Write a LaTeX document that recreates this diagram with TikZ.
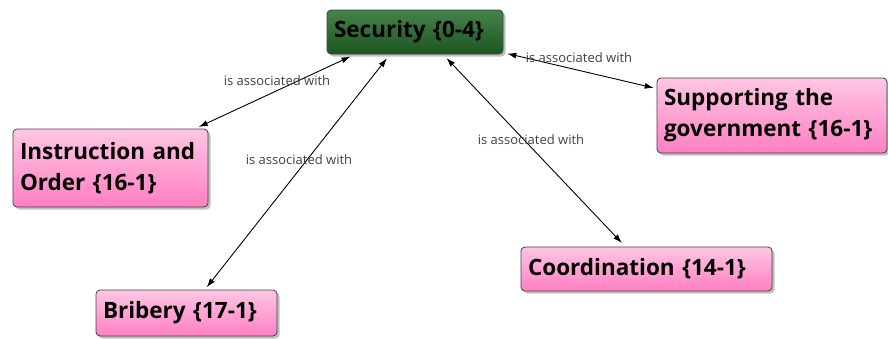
\documentclass[tikz,border=0pt]{standalone}
\usepackage{fontspec}
\setmainfont{Open Sans}
\usepackage{tikz}
\usetikzlibrary{calc}
\usetikzlibrary{positioning}
\usetikzlibrary{arrows.meta}
\usetikzlibrary{shadows}
\definecolor{pinkTop}{HTML}{FFC6E4}
\definecolor{pinkBottom}{HTML}{FF7FC2}
\definecolor{greenTop}{HTML}{44844A}
\definecolor{greenBottom}{HTML}{1C5420}
\definecolor{labelGray}{HTML}{404040}
\tikzset{
  conceptNode/.style={%
    rectangle, rounded corners=4pt, draw=black!75, line width=0.8pt,
    top color=pinkTop, bottom color=pinkBottom,
    drop shadow={shadow xshift=2.5pt, shadow yshift=-2.5pt, fill=black!50},
    align=left, inner xsep=7pt, inner ysep=3pt,
    font=\bfseries\fontsize{22.5}{31}\selectfont, text=black,
  },
  rootNode/.style={%
    conceptNode, top color=greenTop, bottom color=greenBottom,
  },
  linkLabel/.style={%
    font=\fontsize{13}{15}\selectfont, text=labelGray, inner sep=1pt,
  }
}

\begin{document}
\begin{tikzpicture}[x=1pt,y=-1pt]
                \useasboundingbox (0,0) rectangle (888,338);
                \node[rootNode, minimum width=176pt, minimum height=44pt, text width=162pt]
                  (security) at (415,32) {Security \{0-4\}};
                \node[conceptNode, minimum width=195pt, minimum height=78pt, text width=181pt]
                  (instruction) at (110.5,168) {Instruction and\\Order \{16-1\}};
                \node[conceptNode, minimum width=230pt, minimum height=75pt, text width=216pt]
                  (supporting) at (772,115.5) {Supporting the\\government \{16-1\}};
                \node[conceptNode, minimum width=251pt, minimum height=44pt, text width=237pt]
                  (coordination) at (646.5,269) {Coordination \{14-1\}};
                \node[conceptNode, minimum width=181pt, minimum height=46pt, text width=167pt]
                  (bribery) at (186.5,313) {Bribery \{17-1\}};
                \draw[line width=0.9pt,>={Latex[length=9pt,width=6pt]},<->,shorten <=5pt,shorten >=4pt]
                  ([xshift=-60pt]security.south) -- (instruction)
                  ;
                \draw[line width=0.9pt,>={Latex[length=9pt,width=6pt]},<->,shorten <=5pt,shorten >=3pt]
                  ([xshift=-25pt]security.south) -- (bribery)
                  ;
                \draw[line width=0.9pt,>={Latex[length=9pt,width=6pt]},<->,shorten <=5pt,shorten >=5pt]
                  ([xshift=28pt]security.south) -- (coordination)
                  ;
                \draw[line width=0.9pt,>={Latex[length=9pt,width=6pt]},<->,shorten <=4pt,shorten >=3pt]
                  (security) -- (supporting)
                  ;
                \node[linkLabel] (label1) at (277,81) {is associated with};
                \node[linkLabel] (label2) at (299,160) {is associated with};
                \node[linkLabel] (label3) at (531,140) {is associated with};
                \node[linkLabel] (label4) at (579,58) {is associated with};
              \end{tikzpicture}
\end{document}
